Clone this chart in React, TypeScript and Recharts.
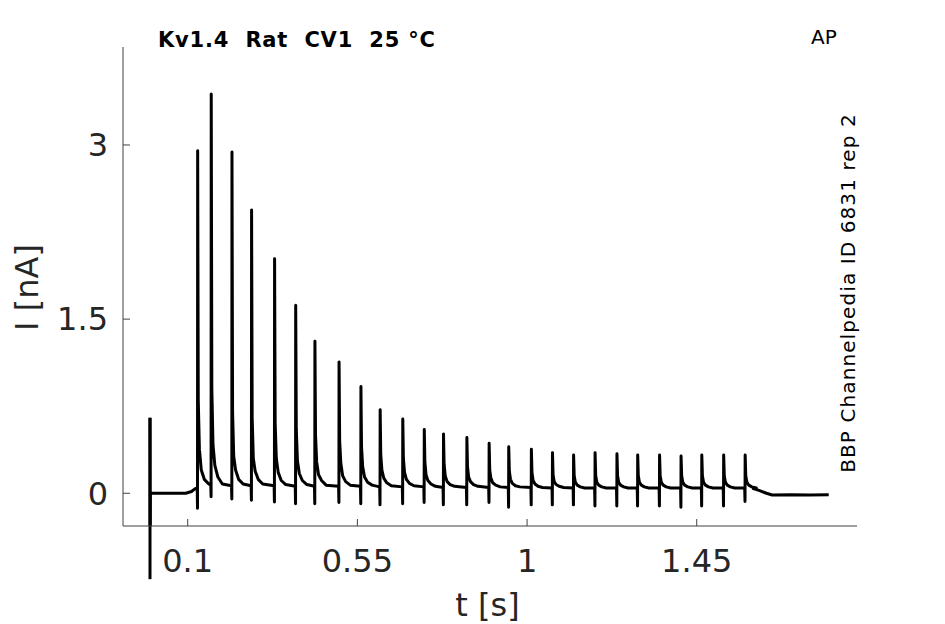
import React from 'react';
import { LineChart, Line, XAxis, YAxis, ReferenceLine } from 'recharts';

// ---- data ----
const xTicks = [0.1, 0.55, 1, 1.45];
const yTicks = [0, 1.5, 3];

// artifact spike at t = 0 (top, bottom) in nA
const artifact = [0.65, -0.74];

// baseline before first pulse
const preT = [0.001, 0.095, 0.11, 0.12];
const preI = [0, 0, 0.015, 0.04];

// pulse times (s)
const pulseT = [
  0.126, 0.162, 0.217, 0.269, 0.33, 0.386, 0.437, 0.501, 0.559, 0.61,
  0.67, 0.727, 0.778, 0.84, 0.899, 0.951, 1.011, 1.067, 1.123, 1.18,
  1.238, 1.293, 1.351, 1.408, 1.463, 1.521, 1.578,
];
// peak current of each pulse (nA)
const pulsePeak = [
  2.95, 3.44, 2.94, 2.44, 2.02, 1.62, 1.31, 1.13, 0.92, 0.72,
  0.64, 0.55, 0.51, 0.48, 0.43, 0.4, 0.38, 0.35, 0.33, 0.35,
  0.34, 0.33, 0.33, 0.32, 0.33, 0.33, 0.33,
];
// downward tick of each pulse (nA)
const pulseTrough = [
  -0.13, -0.03, -0.05, -0.06, -0.075, -0.09, -0.09, -0.08, -0.09, -0.1,
  -0.09, -0.08, -0.1, -0.1, -0.08, -0.12, -0.1, -0.1, -0.1, -0.11,
  -0.11, -0.11, -0.11, -0.12, -0.11, -0.11, -0.07,
];
// baseline just before each pulse (nA)
const baseBefore = [
  0.045, 0.075, 0.065, 0.065, 0.065, 0.06, 0.06, 0.06, 0.06, 0.055,
  0.055, 0.055, 0.05, 0.05, 0.05, 0.05, 0.05, 0.045, 0.045, 0.045,
  0.045, 0.045, 0.045, 0.045, 0.045, 0.045, 0.045,
];
// sampling instants after each peak (s) and the decaying current read there (nA)
const tailOffsets = [0.002, 0.005, 0.01, 0.018, 0.03];
const tails = [
  [0.8, 0.38, 0.2, 0.12, 0.08],
  [0.9, 0.42, 0.24, 0.14, 0.08],
  [0.7, 0.32, 0.2, 0.12, 0.08],
  [0.65, 0.3, 0.19, 0.12, 0.08],
  [0.6, 0.3, 0.18, 0.11, 0.075],
  [0.55, 0.28, 0.17, 0.11, 0.075],
  [0.5, 0.27, 0.16, 0.11, 0.07],
  [0.45, 0.26, 0.15, 0.1, 0.07],
  [0.4, 0.23, 0.14, 0.095, 0.07],
  [0.33, 0.2, 0.13, 0.09, 0.065],
  [0.3, 0.18, 0.12, 0.085, 0.065],
  [0.27, 0.16, 0.11, 0.08, 0.06],
  [0.25, 0.15, 0.1, 0.075, 0.06],
  [0.23, 0.14, 0.1, 0.075, 0.06],
  [0.2, 0.13, 0.09, 0.07, 0.055],
  [0.19, 0.12, 0.085, 0.065, 0.055],
  [0.18, 0.11, 0.08, 0.06, 0.05],
  [0.16, 0.1, 0.075, 0.06, 0.05],
  [0.15, 0.095, 0.07, 0.055, 0.045],
  [0.15, 0.095, 0.07, 0.055, 0.045],
  [0.15, 0.095, 0.07, 0.055, 0.045],
  [0.15, 0.095, 0.07, 0.055, 0.045],
  [0.15, 0.095, 0.07, 0.055, 0.045],
  [0.15, 0.095, 0.07, 0.055, 0.045],
  [0.15, 0.095, 0.07, 0.055, 0.045],
  [0.15, 0.095, 0.07, 0.055, 0.045],
  [0.15, 0.095, 0.07, 0.055, 0.045],
];

// tail of the recording after the train
const postT = [1.6, 1.615, 1.635, 1.65, 1.7, 1.75, 1.8];
const postI = [0.04, 0.025, 0.0, -0.015, -0.012, -0.015, -0.012];

// ---- build the trace table ----
const trace: { t: number; i: number }[] = [];
trace.push({ t: 0, i: artifact[0] });
trace.push({ t: 0.0003, i: artifact[1] });
preT.forEach((t, k) => trace.push({ t, i: preI[k] }));
pulseT.forEach((t, k) => {
  trace.push({ t: t - 0.0008, i: baseBefore[k] });
  trace.push({ t, i: pulseTrough[k] });
  trace.push({ t: t + 0.0004, i: pulsePeak[k] });
  tailOffsets.forEach((o, j) => trace.push({ t: t + o, i: tails[k][j] }));
});
postT.forEach((t, k) => trace.push({ t, i: postI[k] }));

const FONT = 'DejaVu Sans';
const INK = '#262626';

export default function App() {
  return (
    <div style={{ position: 'absolute', left: 0, top: 0, width: 945, height: 624, background: '#fff' }}>
      <LineChart width={945} height={624} data={trace} margin={{ top: 47, right: 88, bottom: 0, left: 0 }}>
        <XAxis
          dataKey="t"
          type="number"
          domain={[-0.0716, 1.875]}
          allowDataOverflow
          ticks={xTicks}
          interval={0}
          height={98}
          tickSize={-7}
          tickMargin={30}
          stroke="#404040"
          tick={{ fontSize: 32, fill: INK, fontFamily: FONT }}
        />
        <YAxis
          type="number"
          domain={[-0.282, 3.844]}
          allowDataOverflow
          ticks={yTicks}
          interval={0}
          width={123}
          tickSize={-7}
          tickMargin={22}
          stroke="#404040"
          tick={{ fontSize: 32, fill: INK, fontFamily: FONT }}
        />
        <Line
          type="linear"
          dataKey="i"
          stroke="#000"
          strokeWidth={3}
          strokeLinejoin="round"
          dot={false}
          isAnimationActive={false}
        />
        <ReferenceLine
          segment={[{ x: 0, y: artifact[0] }, { x: 0, y: artifact[1] }]}
          stroke="#000"
          strokeWidth={3}
          ifOverflow="visible"
        />
      </LineChart>
      <svg width={945} height={624} style={{ position: 'absolute', left: 0, top: 0, pointerEvents: 'none' }}>
        <text x={158} y={46.5} fontFamily={FONT} fontWeight="bold" fontSize={21} letterSpacing={0.8} fill="#000" style={{ whiteSpace: 'pre' }}>
          {'Kv1.4  Rat  CV1  25 °C'}
        </text>
        <text x={811} y={44} fontFamily={FONT} fontSize={20} fill="#000">AP</text>
        <text
          x={855}
          y={293}
          transform="rotate(-90 855 293)"
          textAnchor="middle"
          fontFamily={FONT}
          fontSize={20}
          letterSpacing={1.1}
          fill="#000"
        >
          BBP Channelpedia ID 6831 rep 2
        </text>
        <text
          x={38}
          y={287.5}
          transform="rotate(-90 38 287.5)"
          textAnchor="middle"
          fontFamily={FONT}
          fontSize={32}
          fill={INK}
        >
          I [nA]
        </text>
        <text x={487.5} y={616} textAnchor="middle" fontFamily={FONT} fontSize={32} fill={INK}>
          t [s]
        </text>
      </svg>
    </div>
  );
}
